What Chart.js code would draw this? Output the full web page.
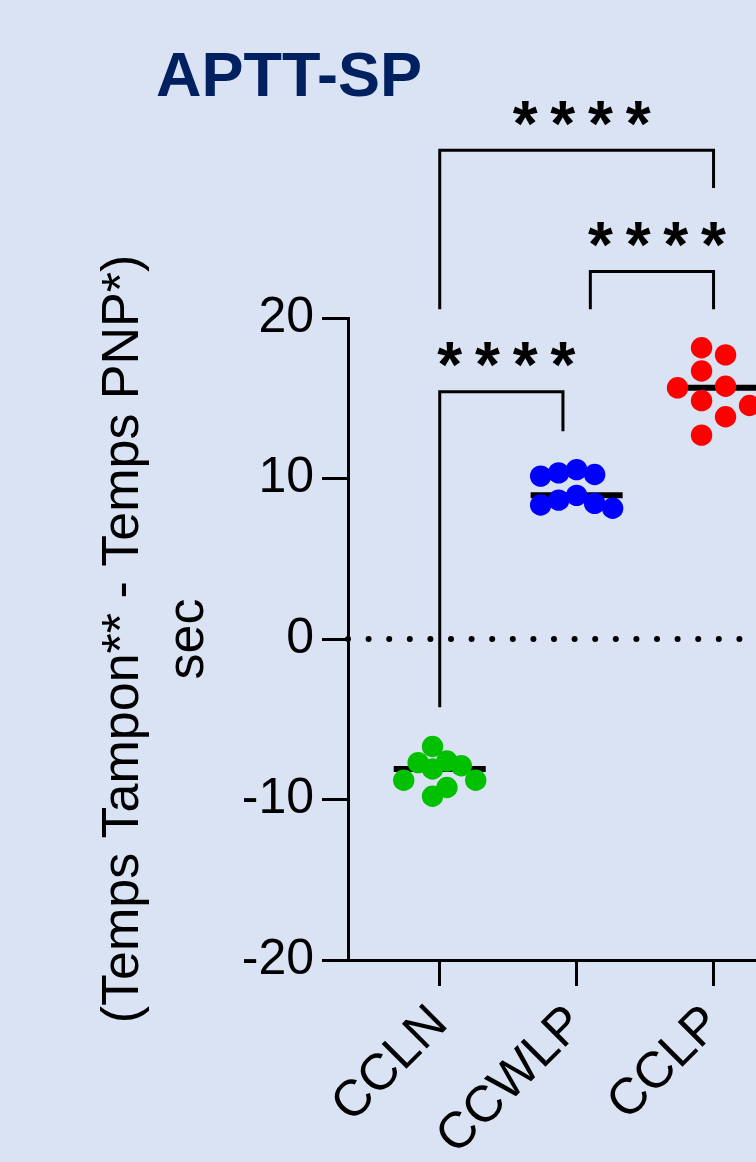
<!DOCTYPE html>
<html>
<head>
<meta charset="utf-8">
<title>APTT-SP</title>
<script src="https://cdn.jsdelivr.net/npm/chart.js@4/dist/chart.umd.min.js"></script>
<style>
  html, body { margin: 0; padding: 0; background: #dae3f3; overflow: hidden; }
  #wrap { width: 756px; height: 1162px; }
</style>
</head>
<body>
<div id="wrap"><canvas id="chart" width="756" height="1162"></canvas></div>
<script>
// Groups on the x axis
const categories = ['CCLN', 'CCWLP', 'CCLP'];

// Difference (buffer time - PNP time), seconds, one value per sample
const cclnValues  = [-6.7, -7.6, -7.7, -7.9, -8.1, -8.8, -8.8, -9.25, -9.8];
const ccwlpValues = [10.55, 10.35, 10.25, 10.15, 8.95, 8.65, 8.45, 8.35, 8.15];
const cclpValues  = [18.15, 17.7, 16.7, 15.75, 15.65, 14.85, 14.55, 13.85, 12.7];

const groupColors = ['#00c000', '#0000ff', '#ff0000'];

// Y axis ticks
const yTicks = [-20, -10, 0, 10, 20];

// Significance brackets: group indices, height of the bar, heights of both feet (sec)
const bracketFrom   = [0, 1, 0];
const bracketTo     = [1, 2, 2];
const bracketLevel  = [15.4, 22.9, 30.45];
const bracketFootA  = [-4.25, 20.55, 20.55];
const bracketFootB  = [12.95, 20.55, 28.1];
const bracketLabels = ['****', '****', '****'];

const groups = [cclnValues, ccwlpValues, cclpValues];
const FONT = '"Liberation Sans", Arial, Helvetica, sans-serif';

function median(arr) {
  const s = [...arr].sort((a, b) => a - b);
  const m = Math.floor(s.length / 2);
  return s.length % 2 ? s[m] : (s[m - 1] + s[m]) / 2;
}

// Adjacent comparisons sharing a group pull their feet inward a little
function footShift(b, end) {
  const cat = end === 0 ? bracketFrom[b] : bracketTo[b];
  const span = bracketTo[b] - bracketFrom[b];
  for (let o = 0; o < bracketFrom.length; o++) {
    if (o === b || bracketTo[o] - bracketFrom[o] !== span) continue;
    if (bracketFrom[o] === cat || bracketTo[o] === cat) return end === 0 ? 0.1 : -0.1;
  }
  return 0;
}

const datasets = [];
const DOT_RADIUS = 10.7;

// scatter dots (start at the group centre, spread into columns afterwards)
groups.forEach((vals, gi) => {
  datasets.push({
    type: 'scatter',
    data: vals.map(v => ({ x: gi + 1, y: v })),
    backgroundColor: groupColors[gi],
    borderWidth: 0,
    pointRadius: DOT_RADIUS,
    pointHoverRadius: DOT_RADIUS,
    clip: false,
    order: 0
  });
});

// median bars
const MEDIAN_HALF = 0.336;
groups.forEach((vals, gi) => {
  const m = median(vals);
  datasets.push({
    type: 'line',
    data: [{ x: gi + 1 - MEDIAN_HALF, y: m }, { x: gi + 1 + MEDIAN_HALF, y: m }],
    borderColor: '#000',
    borderWidth: 6,
    pointRadius: 0,
    clip: false,
    order: 2
  });
});

// zero reference line (dotted)
datasets.push({
  type: 'line',
  data: [{ x: 0.33, y: 0 }, { x: 3.31, y: 0 }],
  borderColor: '#000',
  borderWidth: 6,
  borderDash: [0, 20.6],
  borderCapStyle: 'round',
  pointRadius: 0,
  clip: false,
  order: 3
});

// comparison brackets
bracketFrom.forEach((f, b) => {
  const xa = f + 1 + footShift(b, 0);
  const xb = bracketTo[b] + 1 + footShift(b, 1);
  datasets.push({
    type: 'line',
    data: [
      { x: xa, y: bracketFootA[b] },
      { x: xa, y: bracketLevel[b] },
      { x: xb, y: bracketLevel[b] },
      { x: xb, y: bracketFootB[b] }
    ],
    borderColor: '#000',
    borderWidth: 3,
    borderJoinStyle: 'miter',
    pointRadius: 0,
    tension: 0,
    clip: false,
    order: 3
  });
});

// Title and significance stars
const annotations = {
  id: 'annotations',
  afterDatasetsDraw(chart) {
    const { ctx, scales: { x, y } } = chart;
    ctx.save();
    ctx.fillStyle = '#002060';
    ctx.font = 'bold 63px ' + FONT;
    ctx.textAlign = 'left';
    ctx.textBaseline = 'alphabetic';
    ctx.fillText('APTT-SP', 156, 96);

    ctx.fillStyle = '#000';
    ctx.font = 'bold 64px ' + FONT;
    ctx.textAlign = 'center';
    const m = ctx.measureText('*');
    const asc = m.actualBoundingBoxAscent, desc = m.actualBoundingBoxDescent;
    const STAR_PITCH = 37.7, STAR_NUDGE = 5, STAR_RISE = 37;
    bracketFrom.forEach((f, b) => {
      const xa = x.getPixelForValue(f + 1 + footShift(b, 0));
      const xb = x.getPixelForValue(bracketTo[b] + 1 + footShift(b, 1));
      const cx = (xa + xb) / 2 + STAR_NUDGE;
      const cy = y.getPixelForValue(bracketLevel[b]) - STAR_RISE;
      const stars = bracketLabels[b].split('');
      const base = cy + (asc - desc) / 2;
      stars.forEach((s, k) => {
        ctx.fillText(s, cx + (k - (stars.length - 1) / 2) * STAR_PITCH, base);
      });
    });
    ctx.restore();
  }
};

const chart = new Chart(document.getElementById('chart'), {
  type: 'scatter',
  data: { datasets },
  options: {
    responsive: false,
    devicePixelRatio: 1,
    animation: false,
    events: [],
    layout: { autoPadding: false, padding: { top: 318, left: 0, right: 0, bottom: 0 } },
    plugins: { legend: { display: false }, tooltip: { enabled: false } },
    scales: {
      x: {
        type: 'linear',
        min: 0.33,
        max: 3.31,
        afterBuildTicks: s => { s.ticks = categories.map((_, i) => ({ value: i + 1 })); },
        afterFit: s => { s.height = 202; s.paddingLeft = 0; s.paddingRight = 0; },
        ticks: {
          callback: v => categories[v - 1],
          autoSkip: false,
          minRotation: 45,
          maxRotation: 45,
          padding: 8,
          color: '#000',
          font: { family: FONT, size: 51 }
        },
        grid: { drawOnChartArea: false, drawTicks: true, tickLength: 26, lineWidth: 3, color: '#000' },
        border: { display: true, width: 3, color: '#000' }
      },
      y: {
        type: 'linear',
        min: -20,
        max: 20,
        afterBuildTicks: s => { s.ticks = yTicks.map(v => ({ value: v })); },
        afterFit: s => { s.width = 348; s.paddingTop = 0; s.paddingBottom = 0; },
        ticks: { padding: 8, color: '#000', font: { family: FONT, size: 50 } },
        grid: { drawOnChartArea: false, drawTicks: true, tickLength: 26, lineWidth: 3, color: '#000' },
        border: { display: true, width: 3, color: '#000' },
        title: {
          display: true,
          text: ['(Temps Tampon** - Temps PNP*)', 'sec'],
          color: '#000',
          font: { family: FONT, size: 52, lineHeight: 1.25 },
          padding: { top: 91, bottom: 0 }
        }
      }
    }
  },
  plugins: [annotations]
});

// Column scatter: each group gets as many columns as the densest band of dots needs,
// spread over a fixed width; every dot goes to the free column nearest the centre.
(function spreadDots() {
  const xs = chart.scales.x, ys = chart.scales.y;
  const DIAM = 2 * 10.3;
  const SPREAD_HALF = 36;
  groups.forEach((vals, gi) => {
    const cx = xs.getPixelForValue(gi + 1);
    const pys = vals.map(v => ys.getPixelForValue(v));
    const sorted = [...pys].sort((a, b) => a - b);
    let nCols = 1;
    sorted.forEach((p, i) => {
      let n = 0;
      for (let j = i; j < sorted.length && sorted[j] - p <= DIAM; j++) n++;
      nCols = Math.max(nCols, n);
    });
    const cols = [];
    for (let c = 0; c < nCols; c++) {
      cols.push(nCols === 1 ? 0 : -SPREAD_HALF + c * (2 * SPREAD_HALF) / (nCols - 1));
    }
    const prefs = cols.map((dx, c) => c).sort((a, b) => Math.abs(cols[a]) - Math.abs(cols[b]) || cols[a] - cols[b]);
    const used = cols.map(() => []);
    const order = vals.map((_, i) => i).sort((a, b) => vals[b] - vals[a]);
    order.forEach(i => {
      const py = pys[i];
      let c = prefs.find(k => used[k].every(q => Math.abs(q - py) >= DIAM));
      if (c === undefined) {
        c = prefs.reduce((best, k) => {
          const gap = Math.min(...used[k].map(q => Math.abs(q - py)));
          const bestGap = Math.min(...used[best].map(q => Math.abs(q - py)));
          return gap > bestGap ? k : best;
        }, prefs[0]);
      }
      used[c].push(py);
      chart.data.datasets[gi].data[i].x = xs.getValueForPixel(cx + cols[c]);
    });
  });
  chart.update('none');
})();
</script>
</body>
</html>
